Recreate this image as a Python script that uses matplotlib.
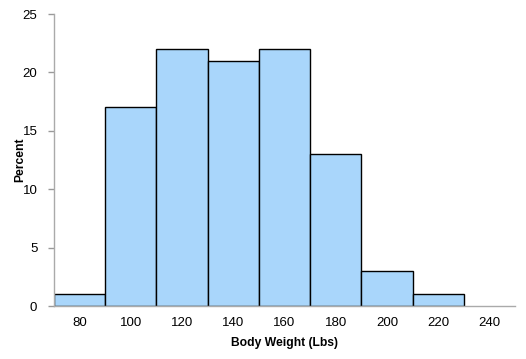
import numpy as np
import matplotlib.pyplot as plt

plt.rcParams['font.family'] = ['Liberation Sans', 'DejaVu Sans']

# 直方图数据
bin_edges = [70, 90, 110, 130, 150, 170, 190, 210, 230]
percent = [1, 17, 22, 21, 22, 13, 3, 1]
x_ticks = [80, 100, 120, 140, 160, 180, 200, 220, 240]
y_ticks = [0, 5, 10, 15, 20, 25]

fig = plt.figure(figsize=(5.26, 3.59), dpi=100)
ax = fig.add_axes([0.1027, 0.1476, 0.8763, 0.8134])

lefts = np.array(bin_edges[:-1])
widths = np.diff(bin_edges)
ax.bar(lefts, percent, width=widths, align='edge', color='#a9d6fb',
       edgecolor='black', linewidth=1.0)

ax.set_xlim(70, 250)
ax.set_ylim(0, 25)
ax.set_xticks(x_ticks)
ax.set_yticks(y_ticks)
ax.tick_params(axis='x', length=0, pad=8, labelsize=9.5)
ax.tick_params(axis='y', length=4, color='#999999', width=1, pad=8, labelsize=9.5)

for s in ['top', 'right']:
    ax.spines[s].set_visible(False)
for s in ['left', 'bottom']:
    ax.spines[s].set_color('#aaaaaa')
    ax.spines[s].set_linewidth(1)

ax.set_xlabel('Body Weight (Lbs)', fontsize=8.7, fontweight='bold', labelpad=6)
ax.set_ylabel('Percent', fontsize=8.7, fontweight='bold')
ax.yaxis.set_label_coords(-0.061, 0.5)

fig.savefig('out.png', dpi=100)
